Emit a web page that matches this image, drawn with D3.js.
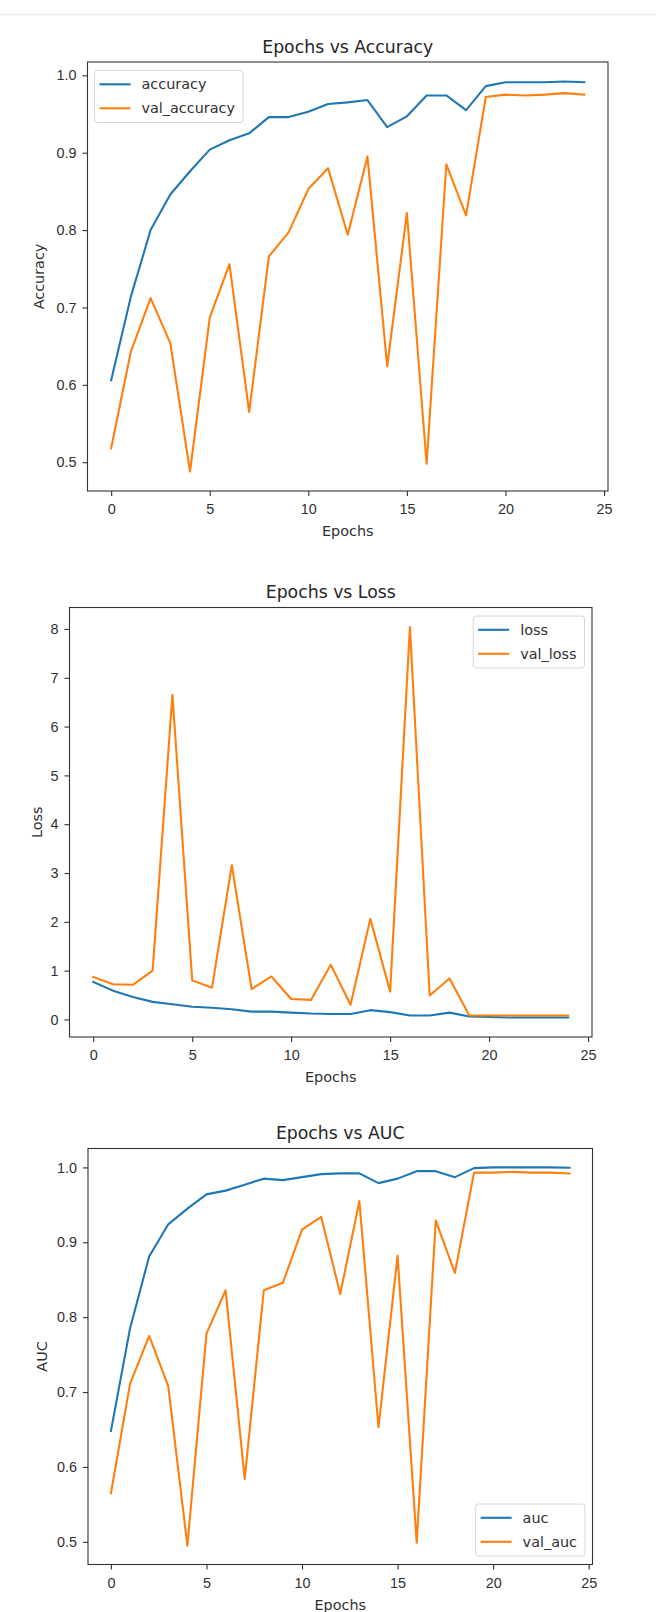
<!DOCTYPE html>
<html>
<head>
<meta charset="utf-8">
<title>Training history</title>
<script src="https://cdn.jsdelivr.net/npm/d3@7"></script>
<style>
  body { margin: 0; background: #fff; }
  svg { font-family: "DejaVu Sans", sans-serif; display: block; }
  .tick text { font-size: 14.4px; fill: #303030; }
  .tick line { stroke: #333; stroke-width: 1.1; }
  .title { font-size: 17.3px; fill: #262626; }
  .label { font-size: 14.4px; fill: #303030; }
  .legend text { font-size: 14.4px; fill: #303030; }
</style>
</head>
<body>
<svg id="chart" width="656" height="1612"></svg>
<script>
// epochs 0..24
const epochs = [0,1,2,3,4,5,6,7,8,9,10,11,12,13,14,15,16,17,18,19,20,21,22,23,24]

const accuracy    = [0.606,0.714,0.800,0.846,0.876,0.904,0.916,0.925,0.946,0.946,0.953,0.963,0.965,0.968,0.933,0.947,0.974,0.974,0.955,0.986,0.991,0.991,0.991,0.992,0.991]
const valAccuracy = [0.518,0.643,0.712,0.654,0.488,0.687,0.756,0.565,0.766,0.797,0.853,0.880,0.794,0.895,0.624,0.822,0.498,0.885,0.819,0.972,0.975,0.974,0.975,0.977,0.975]

const loss    = [0.77,0.59,0.46,0.36,0.31,0.26,0.24,0.21,0.16,0.16,0.14,0.12,0.11,0.11,0.19,0.15,0.08,0.08,0.14,0.06,0.05,0.04,0.04,0.04,0.04]
const valLoss = [0.87,0.72,0.71,1.00,6.65,0.80,0.65,3.16,0.62,0.88,0.42,0.40,1.12,0.30,2.06,0.57,8.04,0.49,0.84,0.08,0.08,0.08,0.08,0.08,0.08]

const auc    = [0.648,0.785,0.881,0.924,0.945,0.964,0.969,0.977,0.985,0.983,0.987,0.991,0.992,0.992,0.979,0.985,0.995,0.995,0.987,0.999,1.000,1.000,1.000,1.000,0.9995]
const valAuc = [0.565,0.711,0.775,0.708,0.495,0.778,0.836,0.584,0.836,0.846,0.917,0.934,0.831,0.955,0.653,0.882,0.499,0.929,0.859,0.993,0.993,0.994,0.993,0.993,0.992]

const xTicks    = [0,5,10,15,20,25]
const accTicks  = [0.5,0.6,0.7,0.8,0.9,1.0]
const lossTicks = [0,1,2,3,4,5,6,7,8]
const aucTicks  = [0.5,0.6,0.7,0.8,0.9,1.0]

const blue = "#1f77b4", orange = "#ff7f0e"

let svg = d3.select("#chart")

// faint rule across the top of the screenshot
svg.append("line").attr("x1", 0).attr("x2", 656).attr("y1", 14.5).attr("y2", 14.5)
    .style("stroke", "#ececec").style("stroke-width", 1)

// frames of the three panels (page pixels)
const panels = [
    { title: "Epochs vs Accuracy", ylabel: "Accuracy", ylabelX: 39,
      box: {l: 87.5, r: 608, t: 62, b: 491},
      series: [accuracy, valAccuracy], names: ["accuracy", "val_accuracy"],
      ticks: accTicks, fmt: d3.format(".1f"), legend: "upper left" },
    { title: "Epochs vs Loss", ylabel: "Loss", ylabelX: 37,
      box: {l: 69.5, r: 592, t: 607.5, b: 1037},
      series: [loss, valLoss], names: ["loss", "val_loss"],
      ticks: lossTicks, fmt: d3.format("d"), legend: "upper right" },
    { title: "Epochs vs AUC", ylabel: "AUC", ylabelX: 42,
      box: {l: 88, r: 592.5, t: 1148.5, b: 1564.5},
      series: [auc, valAuc], names: ["auc", "val_auc"],
      ticks: aucTicks, fmt: d3.format(".1f"), legend: "lower right" }
]

panels.forEach(drawPanel)

function drawPanel(p) {
    let b = p.box
    let g = svg.append("g")

    // matplotlib style 5% margins
    let x = d3.scaleLinear().domain([-1.2, 25.2]).range([b.l, b.r])
    let all = p.series.flat()
    let lo = d3.min(all), hi = d3.max(all), pad = (hi - lo) * 0.05
    let y = d3.scaleLinear().domain([lo - pad, hi + pad]).range([b.b, b.t])

    let xAxis = d3.axisBottom(x).tickValues(xTicks).tickFormat(d3.format("d"))
        .tickSizeInner(5).tickSizeOuter(0).tickPadding(8)
    let yAxis = d3.axisLeft(y).tickValues(p.ticks).tickFormat(p.fmt)
        .tickSizeInner(5).tickSizeOuter(0).tickPadding(6)

    g.append("g").attr("transform", `translate(0,${b.b})`).call(xAxis)
        .call(a => a.select(".domain").remove())
    g.append("g").attr("transform", `translate(${b.l},0)`).call(yAxis)
        .call(a => a.select(".domain").remove())
    g.selectAll(".tick text").attr("font-family", null).attr("font-size", null)

    let line = d3.line().x((d, i) => x(epochs[i])).y(d => y(d))
    let colors = [blue, orange]
    g.selectAll("path.series")
        .data(p.series)
        .enter()
        .append("path")
        .attr("class", "series")
        .attr("d", line)
        .style("fill", "none")
        .style("stroke", (d, i) => colors[i])
        .style("stroke-width", 2.1)
        .style("stroke-linejoin", "round")
        .style("stroke-linecap", "square")

    // frame
    g.append("rect")
        .attr("x", b.l).attr("y", b.t)
        .attr("width", b.r - b.l).attr("height", b.b - b.t)
        .style("fill", "none").style("stroke", "#333").style("stroke-width", 1.1)

    g.append("text").attr("class", "title")
        .attr("x", (b.l + b.r) / 2).attr("y", b.t - 9.5)
        .attr("text-anchor", "middle").text(p.title)

    g.append("text").attr("class", "label")
        .attr("x", (b.l + b.r) / 2).attr("y", b.b + 45)
        .attr("text-anchor", "middle").text("Epochs")

    g.append("text").attr("class", "label")
        .attr("transform", `translate(${p.ylabelX},${(b.t + b.b) / 2}) rotate(-90)`)
        .attr("dy", "0.35em")
        .attr("text-anchor", "middle").text(p.ylabel)

    // legend
    let leg = g.append("g").attr("class", "legend")
    let bg = leg.append("rect")
    let rows = leg.selectAll("g.row").data(p.names).enter().append("g").attr("class", "row")
        .attr("transform", (d, i) => `translate(0,${13.8 + i * 24})`)
    rows.append("line").attr("x1", 5).attr("x2", 36)
        .style("stroke", (d, i) => colors[i]).style("stroke-width", 2.1)
    rows.append("text").attr("x", 47).attr("dy", "0.35em").text(d => d)
    let tw = d3.max(rows.selectAll("text").nodes(), n => n.getComputedTextLength())
    let w = 47 + tw + 8, h = 52
    bg.attr("width", w).attr("height", h).attr("rx", 3)
        .style("fill", "#fff").style("fill-opacity", 0.8)
        .style("stroke", "#d6d6d6").style("stroke-width", 1)

    let lx, ly
    if (p.legend == "upper left") { lx = b.l + 7; ly = b.t + 8.5 }
    else if (p.legend == "upper right") { lx = b.r - 7.5 - w; ly = b.t + 8.5 }
    else { lx = b.r - 7.5 - w; ly = b.b - 8.5 - h }
    leg.attr("transform", `translate(${lx},${ly})`)
}
</script>
</body>
</html>
